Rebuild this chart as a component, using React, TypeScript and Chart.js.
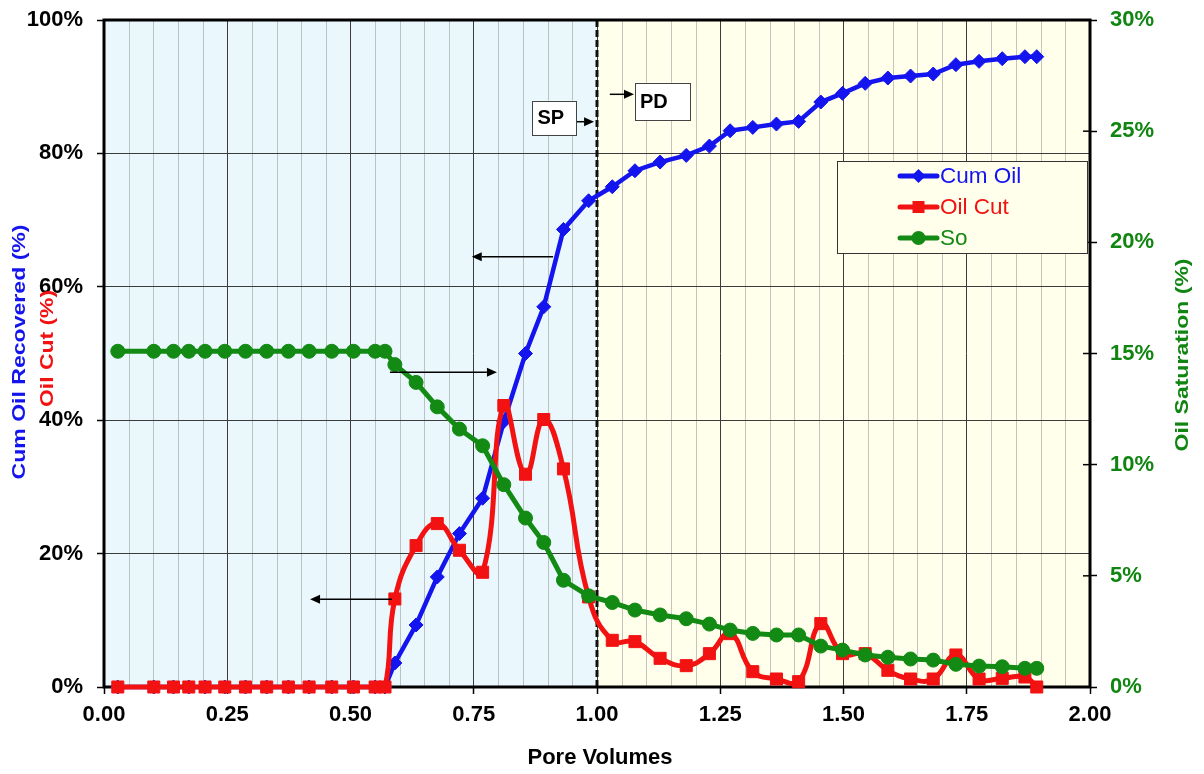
import React, { useEffect, useRef } from "react";
import { Chart, registerables } from "chart.js";

Chart.register(...registerables);

// ---------- data ----------
const PORE_VOLUMES = [
  0.028, 0.101, 0.141, 0.172, 0.205, 0.245, 0.287, 0.33, 0.374, 0.416, 0.462, 0.506, 0.55, 0.57,
  0.59, 0.633, 0.676, 0.721, 0.768, 0.811, 0.855, 0.892, 0.932, 0.983,
  1.031, 1.077, 1.128, 1.181, 1.228, 1.27, 1.316, 1.364, 1.409, 1.454, 1.498, 1.544, 1.59, 1.636,
  1.682, 1.728, 1.775, 1.822, 1.868, 1.892,
];
const CUM_OIL = [
  0, 0, 0, 0, 0, 0, 0, 0, 0, 0, 0, 0, 0, 0,
  3.6, 9.3, 16.5, 23.0, 28.3, 39.8, 50.0, 57.0, 68.6, 72.9,
  75.0, 77.4, 78.7, 79.7, 81.1, 83.4, 83.9, 84.4, 84.8, 87.7, 89.0, 90.5, 91.3, 91.6,
  91.9, 93.3, 93.8, 94.2, 94.5, 94.5,
];
const OIL_CUT = [
  0, 0, 0, 0, 0, 0, 0, 0, 0, 0, 0, 0, 0, 0,
  13.2, 21.2, 24.5, 20.5, 17.2, 42.2, 31.9, 40.1, 32.7, 13.5,
  7.0, 6.8, 4.3, 3.2, 5.0, 8.0, 2.3, 1.2, 0.8, 9.5, 5.0, 5.0, 2.5, 1.2,
  1.2, 4.8, 1.2, 1.3, 1.5, 0,
];
const OIL_SAT = [
  15.1, 15.1, 15.1, 15.1, 15.1, 15.1, 15.1, 15.1, 15.1, 15.1, 15.1, 15.1, 15.1, 15.1,
  14.5, 13.7, 12.6, 11.6, 10.85, 9.1, 7.6, 6.5, 4.8, 4.1,
  3.8, 3.46, 3.24, 3.07, 2.83, 2.56, 2.41, 2.34, 2.34, 1.84, 1.66, 1.44, 1.34, 1.26,
  1.21, 1.02, 0.94, 0.91, 0.84, 0.84,
];

const SERIES_NAMES = ["Cum Oil", "Oil Cut", "So"];
const X_TITLE = "Pore Volumes";
const Y_TITLE_BLUE = "Cum Oil Recovered (%)";
const Y_TITLE_RED = "Oil Cut (%)";
const Y1_TITLE = "Oil Saturation (%)";

const X_RANGE = [0, 2];
const X_MAJOR_STEP = 0.25;
const X_MINOR_STEP = 0.05;
const Y_RANGE = [0, 100];
const Y_STEP = 20;
const Y1_RANGE = [0, 30];
const Y1_STEP = 5;

const PHASE_SWITCH = 1.0; // SP -> PD boundary (pore volumes)

// annotations (in data units: x = pore volumes, y = left-axis %)
const SP_BOX = { x0: 0.869, x1: 0.959, yTop: 87.9, yBot: 82.8, label: "SP" };
const PD_BOX = { x0: 1.077, x1: 1.189, yTop: 90.6, yBot: 85.0, label: "PD" };
const ARROWS = [
  { from: [0.959, 84.75], to: [0.994, 84.75] },
  { from: [1.026, 88.86], to: [1.075, 88.86] },
  { from: [0.911, 64.5], to: [0.746, 64.5] },
  { from: [0.58, 47.2], to: [0.797, 47.2] },
  { from: [0.584, 13.15], to: [0.418, 13.15] },
];

// ---------- styles ----------
const BLUE = "#1414ee";
const RED = "#f21212";
const GREEN = "#138a13";
const GREEN_TEXT = "#118511";
const BLUE_BG = "#eaf8fd";
const YELLOW_BG = "#ffffec";
const FONT = '"Liberation Sans", Arial, Helvetica, sans-serif';

function arrow(ctx: CanvasRenderingContext2D, x1: number, y1: number, x2: number, y2: number) {
  const ang = Math.atan2(y2 - y1, x2 - x1);
  const hl = 10;
  const hw = 4.5;
  ctx.beginPath();
  ctx.moveTo(x1, y1);
  ctx.lineTo(x2 - Math.cos(ang) * hl, y2 - Math.sin(ang) * hl);
  ctx.stroke();
  ctx.beginPath();
  ctx.moveTo(x2, y2);
  ctx.lineTo(x2 - Math.cos(ang) * hl - Math.sin(ang) * hw, y2 - Math.sin(ang) * hl + Math.cos(ang) * hw);
  ctx.lineTo(x2 - Math.cos(ang) * hl + Math.sin(ang) * hw, y2 - Math.sin(ang) * hl - Math.cos(ang) * hw);
  ctx.closePath();
  ctx.fill();
}

function rotatedText(
  ctx: CanvasRenderingContext2D,
  text: string,
  cx: number,
  cy: number,
  color: string,
  size: number,
  targetLen: number
) {
  ctx.save();
  ctx.translate(cx, cy);
  ctx.rotate(-Math.PI / 2);
  ctx.font = `bold ${size}px ${FONT}`;
  const w = ctx.measureText(text).width;
  ctx.scale(targetLen / w, 1);
  ctx.textAlign = "center";
  ctx.textBaseline = "middle";
  ctx.fillStyle = color;
  ctx.fillText(text, 0, 0);
  ctx.restore();
}

function marker(ctx: CanvasRenderingContext2D, style: string, x: number, y: number, color: string) {
  ctx.fillStyle = color;
  ctx.beginPath();
  if (style === "rectRot") {
    const r = 7;
    ctx.moveTo(x, y - r);
    ctx.lineTo(x + r, y);
    ctx.lineTo(x, y + r);
    ctx.lineTo(x - r, y);
    ctx.closePath();
  } else if (style === "rect") {
    ctx.rect(x - 6, y - 6, 12, 12);
  } else {
    ctx.arc(x, y, 7, 0, Math.PI * 2);
  }
  ctx.fill();
}

const decorPlugin = {
  id: "decor",
  beforeDraw(chart: any) {
    const { ctx, chartArea, scales } = chart;
    const { left, right, top, bottom } = chartArea;
    const x = scales.x;
    const xs = x.getPixelForValue(PHASE_SWITCH);
    ctx.save();
    ctx.fillStyle = "#ffffff";
    ctx.fillRect(0, 0, chart.width, chart.height);
    ctx.fillStyle = BLUE_BG;
    ctx.fillRect(left, top, xs - left, bottom - top);
    ctx.fillStyle = YELLOW_BG;
    ctx.fillRect(xs, top, right - xs, bottom - top);
    // minor vertical grid
    ctx.strokeStyle = "rgba(150,150,150,0.55)";
    ctx.lineWidth = 1;
    const n = Math.round((X_RANGE[1] - X_RANGE[0]) / X_MINOR_STEP);
    for (let i = 1; i < n; i++) {
      const v = X_RANGE[0] + i * X_MINOR_STEP;
      if (Math.abs(v / X_MAJOR_STEP - Math.round(v / X_MAJOR_STEP)) < 1e-6) continue;
      const px = Math.round(x.getPixelForValue(v)) + 0.5;
      ctx.beginPath();
      ctx.moveTo(px, top);
      ctx.lineTo(px, bottom);
      ctx.stroke();
    }
    ctx.restore();
  },
  beforeDatasetsDraw(chart: any) {
    const { ctx, chartArea, scales } = chart;
    const { left, right, top, bottom } = chartArea;
    ctx.save();
    // dashed SP/PD boundary
    const xs = scales.x.getPixelForValue(PHASE_SWITCH);
    ctx.strokeStyle = "#111";
    ctx.lineWidth = 3;
    ctx.setLineDash([7, 3]);
    ctx.beginPath();
    ctx.moveTo(xs, top);
    ctx.lineTo(xs, bottom);
    ctx.stroke();
    ctx.setLineDash([]);
    // plot border
    ctx.strokeStyle = "#000";
    ctx.lineWidth = 3;
    ctx.strokeRect(left, top, right - left, bottom - top);
    // inner half of right-axis cross ticks
    ctx.lineWidth = 1.5;
    for (let v = Y1_RANGE[0]; v <= Y1_RANGE[1]; v += Y1_STEP) {
      const py = scales.y1.getPixelForValue(v);
      ctx.beginPath();
      ctx.moveTo(right - 7, py);
      ctx.lineTo(right, py);
      ctx.stroke();
    }
    ctx.restore();
  },
  afterDraw(chart: any) {
    const { ctx, scales } = chart;
    const X = (v: number) => scales.x.getPixelForValue(v);
    const Y = (v: number) => scales.y.getPixelForValue(v);
    ctx.save();
    // arrows
    ctx.strokeStyle = "#000";
    ctx.fillStyle = "#000";
    ctx.lineWidth = 1.5;
    ARROWS.forEach((a) => arrow(ctx, X(a.from[0]), Y(a.from[1]), X(a.to[0]), Y(a.to[1])));
    // SP / PD boxes
    [SP_BOX, PD_BOX].forEach((b) => {
      const x0 = X(b.x0), x1 = X(b.x1), y0 = Y(b.yTop), y1 = Y(b.yBot);
      ctx.fillStyle = "#ffffff";
      ctx.fillRect(x0, y0, x1 - x0, y1 - y0);
      ctx.strokeStyle = "#444";
      ctx.lineWidth = 1;
      ctx.strokeRect(Math.round(x0) + 0.5, Math.round(y0) + 0.5, Math.round(x1 - x0), Math.round(y1 - y0));
      ctx.fillStyle = "#000";
      ctx.font = `bold 20px ${FONT}`;
      ctx.textAlign = "left";
      ctx.textBaseline = "middle";
      ctx.fillText(b.label, x0 + 5, (y0 + y1) / 2 + 1);
    });
    // legend
    const lx0 = 837, ly0 = 161, lw = 250, lh = 92;
    ctx.fillStyle = YELLOW_BG;
    ctx.fillRect(lx0, ly0, lw, lh);
    ctx.strokeStyle = "#333";
    ctx.lineWidth = 1;
    ctx.strokeRect(lx0 + 0.5, ly0 + 0.5, lw, lh);
    const colors = [BLUE, RED, GREEN];
    const styles = ["rectRot", "rect", "circle"];
    SERIES_NAMES.forEach((name, i) => {
      const ry = ly0 + 15 + i * 31;
      ctx.strokeStyle = colors[i];
      ctx.lineWidth = 5;
      ctx.lineCap = "round";
      ctx.beginPath();
      ctx.moveTo(900, ry);
      ctx.lineTo(937, ry);
      ctx.stroke();
      marker(ctx, styles[i], 918.5, ry, colors[i]);
      ctx.fillStyle = colors[i];
      ctx.font = `22.5px ${FONT}`;
      ctx.textAlign = "left";
      ctx.textBaseline = "middle";
      ctx.fillText(name, 940, ry + 1);
    });
    // axis titles
    rotatedText(ctx, Y_TITLE_BLUE, 20.5, 352, BLUE, 18, 255);
    rotatedText(ctx, Y_TITLE_RED, 48, 348.5, RED, 18, 117);
    rotatedText(ctx, Y1_TITLE, 1183, 355, GREEN_TEXT, 18, 193);
    ctx.font = `bold 22px ${FONT}`;
    ctx.fillStyle = "#000";
    ctx.textAlign = "center";
    ctx.textBaseline = "middle";
    ctx.fillText(X_TITLE, 600, 758);
    ctx.restore();
  },
};

export default function App() {
  const canvasRef = useRef<HTMLCanvasElement | null>(null);

  useEffect(() => {
    const canvas = canvasRef.current;
    if (!canvas) return;
    Chart.defaults.font.family = FONT;

    const pts = (ys: number[]) => PORE_VOLUMES.map((x, i) => ({ x, y: ys[i] }));

    const chart = new Chart(canvas, {
      type: "line",
      data: {
        datasets: [
          {
            label: SERIES_NAMES[0],
            data: pts(CUM_OIL),
            yAxisID: "y",
            order: 3,
            borderColor: BLUE,
            backgroundColor: BLUE,
            borderWidth: 4.5,
            pointStyle: "rectRot",
            pointRadius: 7,
            pointBorderWidth: 1,
            pointBackgroundColor: BLUE,
            pointBorderColor: BLUE,
            tension: 0,
            clip: false as any,
          },
          {
            label: SERIES_NAMES[1],
            data: pts(OIL_CUT),
            yAxisID: "y",
            order: 2,
            borderColor: RED,
            backgroundColor: RED,
            borderWidth: 5,
            pointStyle: "rect",
            pointRadius: 8.5,
            pointBorderWidth: 1,
            pointBackgroundColor: RED,
            pointBorderColor: RED,
            tension: 0.45,
            clip: false as any,
          },
          {
            label: SERIES_NAMES[2],
            data: pts(OIL_SAT),
            yAxisID: "y1",
            order: 1,
            borderColor: GREEN,
            backgroundColor: GREEN,
            borderWidth: 5,
            pointStyle: "circle",
            pointRadius: 7,
            pointBorderWidth: 1,
            pointBackgroundColor: GREEN,
            pointBorderColor: GREEN,
            tension: 0,
            clip: false as any,
          },
        ],
      },
      options: {
        animation: false,
        responsive: false,
        events: [],
        layout: { padding: { top: 20, left: 0, right: 0, bottom: 0 } },
        plugins: {
          legend: { display: false },
          tooltip: { enabled: false },
        },
        scales: {
          x: {
            type: "linear",
            min: X_RANGE[0],
            max: X_RANGE[1],
            ticks: {
              stepSize: X_MAJOR_STEP,
              autoSkip: false,
              maxRotation: 0,
              padding: 8,
              color: "#000",
              font: { size: 22, weight: "bold" },
              callback: (v: any) => Number(v).toFixed(2),
            },
            grid: { color: "#3c3c3c", lineWidth: 1, tickLength: 7, tickColor: "#000", tickWidth: 1.5 },
            border: { display: false },
            afterFit: (s: any) => {
              s.height = 87;
              s.paddingLeft = 0;
              s.paddingRight = 0;
            },
          },
          y: {
            position: "left",
            min: Y_RANGE[0],
            max: Y_RANGE[1],
            ticks: {
              stepSize: Y_STEP,
              padding: 14,
              color: "#000",
              font: { size: 22, weight: "bold" },
              callback: (v: any) => `${v}%`,
            },
            grid: { color: "#3c3c3c", lineWidth: 1, tickLength: 7, tickColor: "#000", tickWidth: 1.5 },
            border: { display: false },
            afterFit: (s: any) => {
              s.width = 104;
              s.paddingTop = 0;
              s.paddingBottom = 0;
            },
          },
          y1: {
            position: "right",
            min: Y1_RANGE[0],
            max: Y1_RANGE[1],
            ticks: {
              stepSize: Y1_STEP,
              padding: 13,
              color: GREEN_TEXT,
              font: { size: 22, weight: "bold" },
              callback: (v: any) => `${v}%`,
            },
            grid: { drawOnChartArea: false, tickLength: 7, tickColor: "#000", tickWidth: 1.5 },
            border: { display: false },
            afterFit: (s: any) => {
              s.width = 114;
              s.paddingTop = 0;
              s.paddingBottom = 0;
            },
          },
        },
      } as any,
      plugins: [decorPlugin],
    });

    return () => chart.destroy();
  }, []);

  return (
    <div style={{ position: "absolute", left: 0, top: 0, width: 1204, height: 774, background: "#fff" }}>
      <canvas ref={canvasRef} width={1204} height={774} style={{ display: "block" }} />
    </div>
  );
}
